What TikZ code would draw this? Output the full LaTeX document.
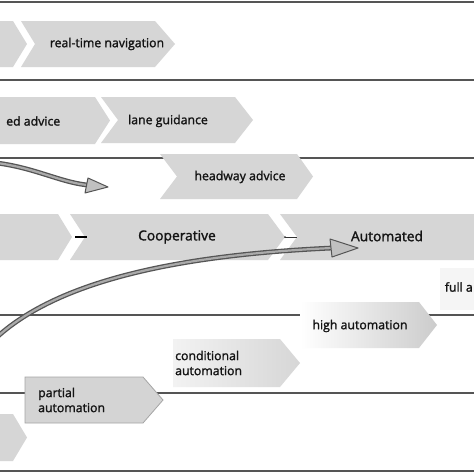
\documentclass[tikz,border=0pt]{standalone}
\usepackage{fontspec}
\setmainfont{Open Sans}[FakeBold=1.6]
\usetikzlibrary{calc}
\definecolor{chev}{RGB}{214,214,214}
\definecolor{rulec}{RGB}{85,85,85}
\definecolor{txt}{RGB}{20,20,20}
\definecolor{tubein}{RGB}{170,170,170}
\definecolor{headfill}{RGB}{192,192,192}
\definecolor{pborder}{RGB}{165,165,165}
% #1 style, #2 x-left, #3 x-right corner, #4 y-top, #5 y-bottom, #6 notch depth, #7 tip depth
\newcommand\chevshape[7]{\path[#1] (#2,#4) -- (#3,#4) -- ({#3+#7},{(#4+#5)/2}) -- (#3,#5) -- (#2,#5) -- ({#2+#6},{(#4+#5)/2}) -- cycle;}
\begin{document}
\begin{tikzpicture}[x=1pt,y=-1pt,
  bandline/.style={draw=rulec,line width=1.6pt},
  chevfill/.style={fill=chev},
  lab/.style={text=txt,font=\fontsize{12.3}{15}\selectfont,inner sep=0pt},
  biglab/.style={text=txt,font=\fontsize{13.8}{16}\selectfont,inner sep=0pt},
  tube/.style={draw=rulec,double=tubein,double distance=2.2pt,line width=1.3pt},
  headstyle/.style={fill=headfill,draw=rulec,line width=1pt,line join=round}]
\useasboundingbox (0,0) rectangle (474,474);
\clip (0,0) rectangle (474,474);
\fill[white] (0,0) rectangle (474,474);
% band lines
\draw[bandline] (0,2) -- (474,2);
\draw[bandline] (0,80) -- (474,80);
\draw[bandline] (0,158) -- (474,158);
\draw[bandline] (0,315) -- (474,315);
\draw[bandline] (0,393) -- (474,393);
\draw[bandline] (0,471) -- (474,471);
% chevrons
\chevshape{chevfill}{-5}{13}{21}{67}{0}{14}
\chevshape{chevfill}{21}{155}{21}{67}{14}{20}
\chevshape{chevfill}{-5}{95}{97}{144}{0}{15}
\chevshape{chevfill}{101}{235}{97}{143}{17}{18}
\chevshape{chevfill}{160}{297}{154}{199}{17}{16}
\chevshape{chevfill}{-5}{58}{214}{260}{0}{14}
\chevshape{chevfill}{70}{268}{214}{260}{15}{17}
\chevshape{chevfill}{280}{490}{214}{260}{17}{0}
\fill[white!96!black] (440,268) rectangle (480,310);
\chevshape{left color=white,right color=black!20}{300}{419}{302}{348}{0}{18}
\chevshape{left color=black!5,right color=black!16}{173}{280}{339}{387}{0}{20}
\chevshape{fill=black!17,draw=pborder,line width=0.8pt}{25}{143}{377}{423}{0}{20}
\chevshape{chevfill}{-5}{13}{414}{461}{0}{14}
% small marks in notches
\draw[black,line width=1.6pt] (75,237) -- (87,237);
\draw[black!80,line width=0.6pt] (285,237) -- (297,237);
\fill[black!80] (285,237) circle (1pt);
% labels
\node[lab] (rtn) at (107,44) {real-time navigation};
\node[lab,anchor=west] (eda) at (6,121) {ed advice};
\node[lab] (lg) at (168,121) {lane guidance};
\node[lab] (hwa) at (240,177) {headway advice};
\node[biglab] (coop) at (177,237) {Cooperative};
\node[biglab] (auto) at (387,236) {Automated};
\node[lab,anchor=east] (fa) at (473,287) {full a};
\node[lab] (ha) at (360,326) {high automation};
\node[lab,anchor=west,align=left] (ca) at (175,363) {conditional\\automation};
\node[lab,anchor=west,align=left] (pa) at (38,400) {partial\\automation};
% arrows
\coordinate (a1s) at (-3,163);
\coordinate (a1e) at (87,185);
\coordinate (a1t) at (108,187);
\draw[tube] (a1s) .. controls (35,168) and (60,182) .. (a1e);
\path[headstyle] (88,178) -- (a1t) -- (85,193) -- cycle;
\coordinate (a2s) at (-3,337);
\coordinate (a2e) at (332,248);
\coordinate (a2t) at (358,248);
\draw[tube] (a2s) .. controls (60,280) and (180,255) .. (a2e);
\path[headstyle] (330,239) -- (a2t) -- (332,257) -- cycle;
\end{tikzpicture}
\end{document}
